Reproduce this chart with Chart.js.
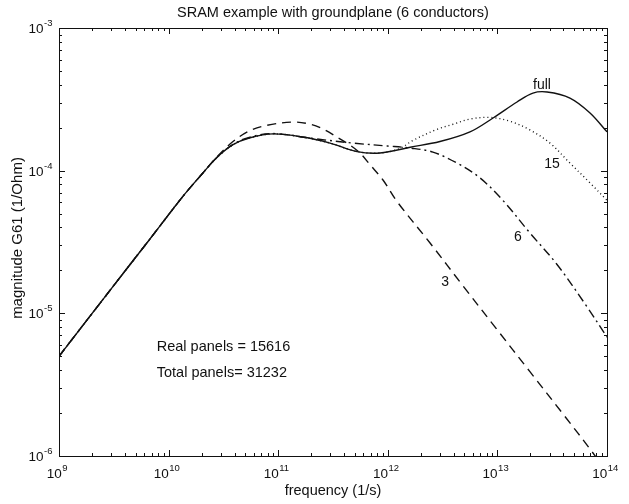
<!DOCTYPE html>
<html>
<head>
<meta charset="utf-8">
<title>SRAM example with groundplane</title>
<script src="https://cdn.jsdelivr.net/npm/chart.js@4.4.1/dist/chart.umd.min.js"></script>
<style>
  html, body { margin: 0; padding: 0; background: #fff; }
  #wrap { width: 629px; height: 504px; position: relative; }
</style>
</head>
<body>
<div id="wrap"><canvas id="g61Chart"></canvas></div>
<script>
// frequency (1/s) / magnitude G61 (1/Ohm)
const freqFull = [1e9, 3.45e9, 6.76e9, 1.35e10, 2.0e10, 2.77e10, 3.87e10, 5.53e10, 8.97e10, 1.68e11, 2.97e11, 5.24e11, 8.49e11, 1.6e12, 2.99e12, 5.62e12, 9.12e12, 1.51e13, 2.11e13, 2.84e13, 4.59e13, 7.0e13, 1e14];
const magFull = [5.0e-6, 1.71e-5, 3.32e-5, 6.6e-5, 9.4e-5, 1.24e-4, 1.52e-4, 1.70e-4, 1.81e-4, 1.72e-4, 1.56e-4, 1.36e-4, 1.33e-4, 1.46e-4, 1.60e-4, 1.87e-4, 2.34e-4, 3.03e-4, 3.50e-4, 3.56e-4, 3.23e-4, 2.54e-4, 1.87e-4];

const freq15 = [1e9, 3.45e9, 6.76e9, 1.35e10, 2.0e10, 2.77e10, 3.87e10, 5.53e10, 8.97e10, 1.68e11, 2.97e11, 5.24e11, 8.49e11, 1.26e12, 1.7e12, 2.82e12, 3.98e12, 5.62e12, 8.55e12, 1.3e13, 1.98e13, 3.02e13, 4.59e13, 7.0e13, 1e14];
const mag15 = [5.0e-6, 1.71e-5, 3.32e-5, 6.6e-5, 9.4e-5, 1.24e-4, 1.52e-4, 1.70e-4, 1.81e-4, 1.72e-4, 1.56e-4, 1.36e-4, 1.33e-4, 1.42e-4, 1.63e-4, 1.95e-4, 2.12e-4, 2.30e-4, 2.36e-4, 2.22e-4, 1.93e-4, 1.56e-4, 1.13e-4, 8.2e-5, 6.2e-5];

const freq6 = [1e9, 3.45e9, 6.76e9, 1.35e10, 2.0e10, 2.77e10, 3.87e10, 5.53e10, 8.97e10, 2.08e11, 4.82e11, 9.84e11, 1.6e12, 2.58e12, 4.28e12, 6.93e12, 1.12e13, 1.98e13, 3.5e13, 6.58e13, 1e14];
const mag6 = [5.0e-6, 1.71e-5, 3.32e-5, 6.6e-5, 9.4e-5, 1.24e-4, 1.53e-4, 1.72e-4, 1.82e-4, 1.68e-4, 1.56e-4, 1.49e-4, 1.44e-4, 1.35e-4, 1.13e-4, 8.9e-5, 6.2e-5, 3.66e-5, 2.2e-5, 1.11e-5, 6.8e-6];

const freq3 = [1e9, 3.45e9, 6.76e9, 1.35e10, 2.0e10, 2.77e10, 3.87e10, 5.53e10, 7.91e10, 1.36e11, 1.95e11, 2.56e11, 3.44e11, 4.52e11, 5.57e11, 6.89e11, 9.04e11, 1.21e12, 2.43e12, 4.85e12, 9.91e12, 1.98e13, 3.97e13, 7.45e13, 1e14];
const mag3 = [5.0e-6, 1.71e-5, 3.32e-5, 6.6e-5, 9.4e-5, 1.25e-4, 1.60e-4, 1.91e-4, 2.08e-4, 2.19e-4, 2.12e-4, 1.96e-4, 1.72e-4, 1.51e-4, 1.33e-4, 1.10e-4, 8.6e-5, 6.1e-5, 3.11e-5, 1.56e-5, 7.7e-6, 3.9e-6, 1.97e-6, 1.05e-6, 7.6e-7];

// decade exponents for the tick labels
const xTickExps = [9, 10, 11, 12, 13, 14];
const yTickExps = [-6, -5, -4, -3];

// in-plot labels (data coordinates)
const curveLabels = ['full', '15', '6', '3'];
const curveLabelFreq = [2.55e13, 3.15e13, 1.54e13, 3.33e12];
const curveLabelMag = [4.0e-4, 1.11e-4, 3.43e-5, 1.66e-5];
const panelNotes = ['Real panels = 15616', 'Total panels= 31232'];
const panelNoteFreq = 7.8e9;
const panelNoteMag = [5.8e-6, 3.8e-6];

const FONT = "'Liberation Sans', Arial, Helvetica, sans-serif";
const INK = '#111';

function pairs(xs, ys) {
  return xs.map((x, i) => ({ x: x, y: ys[i] }));
}

// "10" with a raised exponent, as the original axes show it
function drawPow(ctx, exp, x, y, align) {
  const base = '10';
  const sup = String(exp);
  ctx.font = '13.5px ' + FONT;
  const wb = ctx.measureText(base).width;
  ctx.font = '9.5px ' + FONT;
  const ws = ctx.measureText(sup).width;
  let start = align === 'center' ? x - (wb + ws) / 2 : x - wb - ws;
  ctx.textAlign = 'left';
  ctx.textBaseline = 'alphabetic';
  ctx.font = '13.5px ' + FONT;
  ctx.fillText(base, start, y);
  ctx.font = '9.5px ' + FONT;
  ctx.fillText(sup, start + wb + 0.5, y - 7);
}

const axesPlugin = {
  id: 'matlabAxes',
  afterDatasetsDraw(chart) {
    const { ctx, chartArea: a, scales } = chart;
    const xs = scales.x, ys = scales.y;
    ctx.save();
    ctx.strokeStyle = INK;
    ctx.fillStyle = INK;
    ctx.lineWidth = 1;

    // frame
    ctx.strokeRect(Math.round(a.left) + 0.5, Math.round(a.top) + 0.5,
      Math.round(a.right - a.left), Math.round(a.bottom - a.top));

    // ticks, inward on all four sides
    ctx.beginPath();
    for (let d = 9; d < 14; d++) {
      for (let k = 1; k <= 9; k++) {
        const px = Math.round(xs.getPixelForValue(k * Math.pow(10, d))) + 0.5;
        const len = k === 1 ? 6 : 3;
        ctx.moveTo(px, a.bottom); ctx.lineTo(px, a.bottom - len);
        ctx.moveTo(px, a.top); ctx.lineTo(px, a.top + len);
      }
    }
    for (let d = -6; d < -3; d++) {
      for (let k = 1; k <= 9; k++) {
        const py = Math.round(ys.getPixelForValue(k * Math.pow(10, d))) + 0.5;
        const len = k === 1 ? 6 : 3;
        ctx.moveTo(a.left, py); ctx.lineTo(a.left + len, py);
        ctx.moveTo(a.right, py); ctx.lineTo(a.right - len, py);
      }
    }
    ctx.stroke();

    // tick labels
    xTickExps.forEach(e => {
      const px = xs.getPixelForValue(Math.pow(10, e));
      drawPow(ctx, e, px - 2, a.bottom + 22, 'center');
    });
    yTickExps.forEach(e => {
      const py = ys.getPixelForValue(Math.pow(10, e));
      drawPow(ctx, e, a.left - 7, py + 5, 'right');
    });

    // title and axis titles
    ctx.font = '14.5px ' + FONT;
    ctx.textAlign = 'center';
    ctx.textBaseline = 'middle';
    const cx = (a.left + a.right) / 2;
    ctx.fillText('SRAM example with groundplane (6 conductors)', cx, 13);
    ctx.fillText('frequency (1/s)', cx, 491);
    ctx.save();
    ctx.font = '15px ' + FONT;
    ctx.translate(18, (a.top + a.bottom) / 2 - 4);
    ctx.rotate(-Math.PI / 2);
    ctx.fillText('magnitude G61 (1/Ohm)', 0, 0);
    ctx.restore();

    // curve labels
    ctx.font = '14px ' + FONT;
    curveLabels.forEach((t, i) => {
      ctx.fillText(t, xs.getPixelForValue(curveLabelFreq[i]), ys.getPixelForValue(curveLabelMag[i]));
    });

    // panel counts
    ctx.font = '14.5px ' + FONT;
    ctx.textAlign = 'left';
    panelNotes.forEach((t, i) => {
      ctx.fillText(t, xs.getPixelForValue(panelNoteFreq), ys.getPixelForValue(panelNoteMag[i]));
    });
    ctx.restore();
  }
};

const lineStyle = {
  borderColor: INK,
  borderWidth: 1.4,
  pointRadius: 0,
  fill: false,
  tension: 0.35,
};

new Chart(document.getElementById('g61Chart'), {
  type: 'line',
  data: {
    datasets: [
      { ...lineStyle, label: 'full', data: pairs(freqFull, magFull) },
      { ...lineStyle, label: '15', data: pairs(freq15, mag15), borderDash: [1, 3] },
      { ...lineStyle, label: '6', data: pairs(freq6, mag6), borderDash: [9, 4, 2, 4] },
      { ...lineStyle, label: '3', data: pairs(freq3, mag3), borderDash: [9, 6] },
    ],
  },
  options: {
    responsive: true,
    maintainAspectRatio: false,
    animation: false,
    layout: { padding: { left: 59, top: 28, right: 22, bottom: 48 } },
    plugins: { legend: { display: false }, tooltip: { enabled: false } },
    scales: {
      x: { type: 'logarithmic', min: 1e9, max: 1e14, display: false },
      y: { type: 'logarithmic', min: 1e-6, max: 1e-3, display: false },
    },
  },
  plugins: [axesPlugin],
});
</script>
</body>
</html>
